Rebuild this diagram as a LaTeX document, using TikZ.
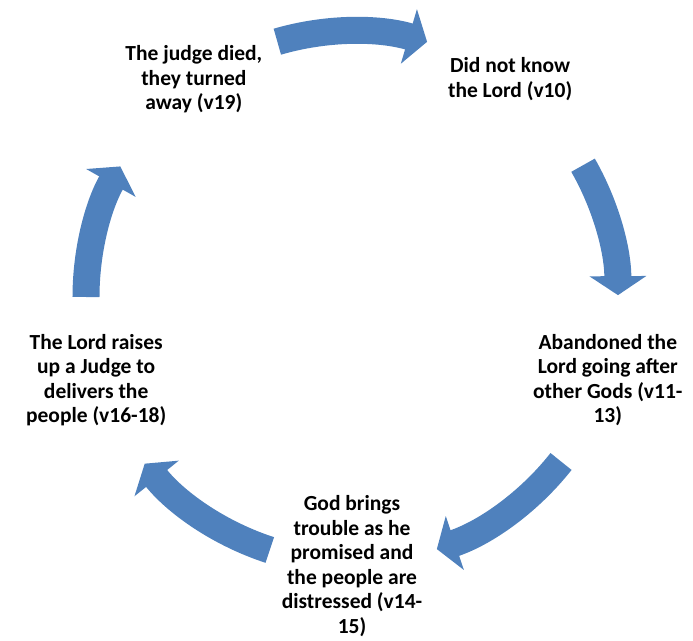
\documentclass[tikz,border=0pt]{standalone}
\usepackage{fontspec}
\setmainfont{Carlito}
\usepackage{tikz}
\usetikzlibrary{positioning,arrows.meta}
\definecolor{cycblue}{HTML}{4F81BD}
\tikzset{
  steptext/.style={align=center,inner sep=0pt,font=\fontsize{21.5bp}{24.6bp}\selectfont\bfseries},
  cyclearrow/.style={draw=cycblue,line width=27bp,-{Triangle[width=56bp,length=19bp]}}
}
\begin{document}
\begin{tikzpicture}[x=1bp,y=1bp]
\useasboundingbox (-352,-344) rectangle (341,297);

\node[steptext] (died) at (126:269) {The judge died,\\they turned\\away (v19)};
\node[steptext] (know) at (54:269) {Did not know\\the Lord (v10)};
\node[steptext] (gods) at (-18:269) {Abandoned the\\Lord going after\\other Gods (v11-\\13)};
\node[steptext] (trouble) at (-90:269) {God brings\\trouble as he\\promised and\\the people are\\distressed (v14-\\15)};
\node[steptext] (raises) at (-162:269) {The Lord raises\\up a Judge to\\delivers the\\people (v16-18)};

\coordinate (d1) at (106.3:266);
\coordinate (k1) at (73.6:266);
\coordinate (k2) at (29.7:266);
\coordinate (g1) at (0.4:266);
\coordinate (g2) at (-38.2:266);
\coordinate (t1) at (-71.4:266);
\coordinate (t2) at (-108:266);
\coordinate (r1) at (-141.2:266);
\coordinate (r2) at (180:266);
\coordinate (d2) at (150.6:266);

\draw[cyclearrow] (d1) to[bend left=16.4,looseness=.87] (k1);
\draw[cyclearrow] (k2) to[bend left=14.7,looseness=.87] (g1);
\draw[cyclearrow] (g2) to[bend left=16.6,looseness=.87] (t1);
\draw[cyclearrow] (t2) to[bend left=16.6,looseness=.87] (r1);
\draw[cyclearrow] (r2) to[bend left=14.7,looseness=.87] (d2);
\end{tikzpicture}
\end{document}
